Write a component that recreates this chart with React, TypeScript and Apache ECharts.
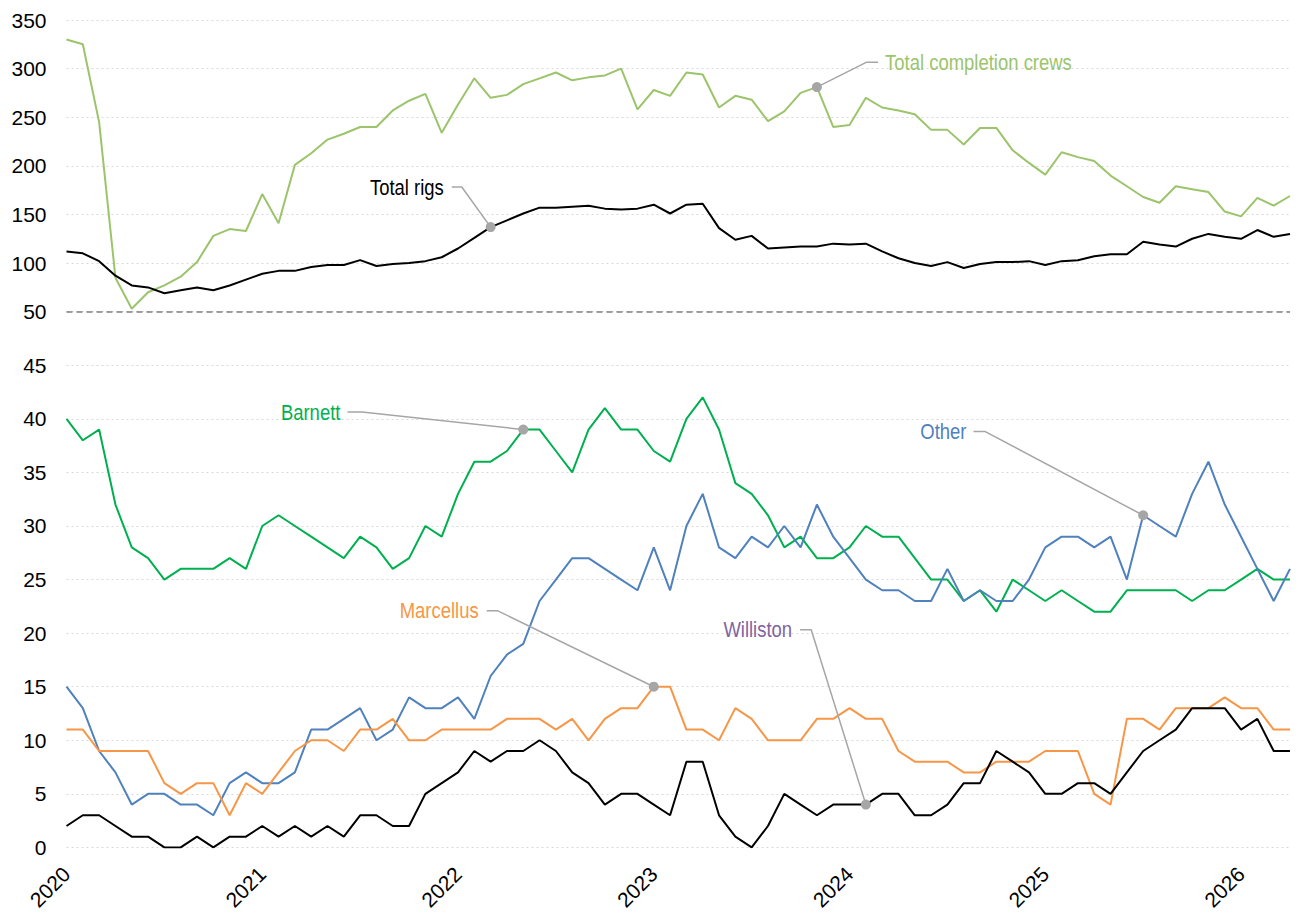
import React, { useEffect, useRef } from "react";
import * as echarts from "echarts";

// Months from Jan 2020 (index 0) to Apr 2026 (index 75)
const startYear = 2020;
const yearTicks = ["2020", "2021", "2022", "2023", "2024", "2025", "2026"];

// Upper panel (scale 50–350)
const totalCompletionCrews = [
  330, 325, 245, 85, 53, 70, 77, 86, 101, 128, 135, 133,
  171, 141, 201, 213, 227, 233, 240, 240, 257, 267, 274, 234,
  263, 290, 270, 273, 284, 290, 296, 288, 291, 293, 300, 258,
  278, 272, 296, 294, 260, 272, 268, 246, 256, 275, 281, 240,
  242, 270, 260, 257, 253, 237, 237, 222, 239, 239, 216, 203,
  191, 214, 209, 205, 190, 179, 168, 162, 179, 176, 173, 153,
  148, 167, 159, 169,
];
const totalRigs = [
  112, 110, 102, 87, 77, 75, 69, 72, 75, 72, 77, 83,
  89, 92, 92, 96, 98, 98, 103, 97, 99, 100, 102, 106,
  115, 126, 137, 144, 151, 157, 157, 158, 159, 156, 155, 156,
  160, 151, 160, 161, 136, 124, 128, 115, 116, 117, 117, 120,
  119, 120, 112, 105, 100, 97, 101, 95, 99, 101, 101, 102,
  98, 102, 103, 107, 109, 109, 122, 119, 117, 125, 130, 127,
  125, 134, 127, 130,
];

// Lower panel (scale 0–45)
const barnett = [
  40, 38, 39, 32, 28, 27, 25, 26, 26, 26, 27, 26,
  30, 31, 30, 29, 28, 27, 29, 28, 26, 27, 30, 29,
  33, 36, 36, 37, 39, 39, 37, 35, 39, 41, 39, 39,
  37, 36, 40, 42, 39, 34, 33, 31, 28, 29, 27, 27,
  28, 30, 29, 29, 27, 25, 25, 23, 24, 22, 25, 24,
  23, 24, 23, 22, 22, 24, 24, 24, 24, 23, 24, 24,
  25, 26, 25, 25,
];
const other = [
  15, 13, 9, 7, 4, 5, 5, 4, 4, 3, 6, 7,
  6, 6, 7, 11, 11, 12, 13, 10, 11, 14, 13, 13,
  14, 12, 16, 18, 19, 23, 25, 27, 27, 26, 25, 24,
  28, 24, 30, 33, 28, 27, 29, 28, 30, 28, 32, 29,
  27, 25, 24, 24, 23, 23, 26, 23, 24, 23, 23, 25,
  28, 29, 29, 28, 29, 25, 31, 30, 29, 33, 36, 32,
  29, 26, 23, 26,
];
const marcellus = [
  11, 11, 9, 9, 9, 9, 6, 5, 6, 6, 3, 6,
  5, 7, 9, 10, 10, 9, 11, 11, 12, 10, 10, 11,
  11, 11, 11, 12, 12, 12, 11, 12, 10, 12, 13, 13,
  15, 15, 11, 11, 10, 13, 12, 10, 10, 10, 12, 12,
  13, 12, 12, 9, 8, 8, 8, 7, 7, 8, 8, 8,
  9, 9, 9, 5, 4, 12, 12, 11, 13, 13, 13, 14,
  13, 13, 11, 11,
];
const williston = [
  2, 3, 3, 2, 1, 1, 0, 0, 1, 0, 1, 1,
  2, 1, 2, 1, 2, 1, 3, 3, 2, 2, 5, 6,
  7, 9, 8, 9, 9, 10, 9, 7, 6, 4, 5, 5,
  4, 3, 8, 8, 3, 1, 0, 2, 5, 4, 3, 4,
  4, 4, 5, 5, 3, 3, 4, 6, 6, 9, 8, 7,
  5, 5, 6, 6, 5, 7, 9, 10, 11, 13, 13, 13,
  11, 12, 9, 9,
];

const FONT = "'Liberation Sans', Arial, sans-serif";
const C_CREWS = "#9BC46B";
const C_RIGS = "#000000";
const C_BARNETT = "#00B050";
const C_OTHER = "#4F81BD";
const C_MARCELLUS = "#F79646";
const C_WILLISTON = "#000000";
const C_WILLISTON_LABEL = "#8064A2";
const C_LEADER = "#A6A6A6";

const toXY = (arr: number[]) => arr.map((v, i) => [i, v]);

type Ann = {
  name: string;
  grid: number;
  color: string;
  side: "left" | "right";
  start: [number, number]; // text-side end of leader (data coords)
  elbow: [number, number];
  dot: [number, number];
  distance: number;
};

// Annotation anchors (month index, value)
const annotations: Ann[] = [
  { name: "Total rigs", grid: 0, color: C_RIGS, side: "left", start: [23.62, 178.2], elbow: [24.23, 178.2], dot: [26, totalRigs[26]], distance: 8 },
  { name: "Total completion crews", grid: 0, color: C_CREWS, side: "right", start: [49.75, 306.5], elbow: [49.02, 306.5], dot: [46, totalCompletionCrews[46]], distance: 7 },
  { name: "Barnett", grid: 1, color: C_BARNETT, side: "left", start: [17.22, 40.63], elbow: [18.12, 40.63], dot: [28, barnett[28]], distance: 7 },
  { name: "Marcellus", grid: 1, color: C_MARCELLUS, side: "left", start: [25.76, 22.08], elbow: [26.44, 22.08], dot: [36, marcellus[36]], distance: 8 },
  { name: "Williston", grid: 1, color: C_WILLISTON_LABEL, side: "left", start: [44.97, 20.32], elbow: [45.65, 20.32], dot: [49, williston[49]], distance: 8 },
  { name: "Other", grid: 1, color: C_OTHER, side: "left", start: [55.6, 38.81], elbow: [56.32, 38.81], dot: [66, other[66]], distance: 7 },
];

const splitLine = { show: true, lineStyle: { color: "#D9D9D9", type: [2, 3] as any, width: 1 } };

export default function App() {
  const ref = useRef<HTMLDivElement>(null);

  useEffect(() => {
    if (!ref.current) return;
    const chart = echarts.init(ref.current, undefined, { renderer: "svg" });

    const dataSeries = (name: string, arr: number[], color: string, g: number, extra: any = {}) => ({
      name,
      type: "line",
      xAxisIndex: g,
      yAxisIndex: g,
      data: toXY(arr),
      showSymbol: false,
      symbol: "none",
      lineStyle: { color, width: 2 },
      itemStyle: { color },
      z: 3,
      silent: true,
      ...extra,
    });

    const annSeries = annotations.map((a) => ({
      name: a.name + " leader",
      type: "line",
      xAxisIndex: a.grid,
      yAxisIndex: a.grid,
      symbol: "circle",
      showSymbol: true,
      silent: true,
      z: 6,
      lineStyle: { color: C_LEADER, width: 1.5 },
      itemStyle: { color: C_LEADER },
      data: [
        { value: a.start, symbolSize: 0 },
        { value: a.elbow, symbolSize: 0 },
        { value: a.dot, symbolSize: 10 },
      ],
    }));

    const xAxisBase = {
      type: "value",
      min: 0,
      max: 75,
      interval: 12,
      axisLine: { show: false },
      axisTick: { show: false },
      splitLine: { show: false },
    };

    chart.setOption({
      animation: false,
      backgroundColor: "#ffffff",
      grid: [
        { left: 66.5, right: 8, top: 20, height: 291.7 },
        { left: 66.5, right: 8, top: 311.7, height: 539 },
      ],
      xAxis: [
        { ...xAxisBase, gridIndex: 0, axisLabel: { show: false } },
        {
          ...xAxisBase,
          gridIndex: 1,
          axisLabel: {
            show: true,
            rotate: 45,
            margin: 23,
            color: "#000",
            fontSize: 21,
            fontFamily: FONT,
            formatter: (v: number) => (v % 12 === 0 ? yearTicks[v / 12] ?? String(startYear + v / 12) : ""),
          },
        },
      ],
      yAxis: [
        {
          type: "value",
          gridIndex: 0,
          min: 50,
          max: 350,
          interval: 50,
          axisLine: { show: false },
          axisTick: { show: false },
          splitLine,
          axisLabel: { margin: 20, color: "#000", fontSize: 21, fontFamily: FONT },
        },
        {
          type: "value",
          gridIndex: 1,
          min: 0,
          max: 50,
          interval: 5,
          axisLine: { show: false },
          axisTick: { show: false },
          splitLine,
          axisLabel: {
            margin: 20,
            color: "#000",
            fontSize: 21,
            fontFamily: FONT,
            formatter: (v: number) => (v === 50 ? "" : String(v)),
          },
        },
      ],
      series: [
        dataSeries("Total completion crews", totalCompletionCrews, C_CREWS, 0, {
          markLine: {
            silent: true,
            symbol: "none",
            label: { show: false },
            lineStyle: { color: "#808080", type: [6, 4], width: 1.5 },
            data: [{ yAxis: 50 }],
          },
        }),
        dataSeries("Total rigs", totalRigs, C_RIGS, 0),
        dataSeries("Barnett", barnett, C_BARNETT, 1),
        dataSeries("Other", other, C_OTHER, 1),
        dataSeries("Marcellus", marcellus, C_MARCELLUS, 1),
        dataSeries("Williston", williston, C_WILLISTON, 1),
        ...annSeries,
      ],
    });

    // Condensed-looking annotation texts placed at the leader ends
    const texts = annotations.map((a) => {
      const p = chart.convertToPixel({ gridIndex: a.grid } as any, a.start) as number[];
      const left = a.side === "left";
      return {
        type: "text",
        x: left ? p[0] - a.distance : p[0] + a.distance,
        y: p[1],
        scaleX: 0.84,
        silent: true,
        z: 10,
        style: {
          text: a.name,
          fill: a.color,
          font: `22px ${FONT}`,
          textAlign: left ? "right" : "left",
          textVerticalAlign: "middle",
        },
      };
    });
    chart.setOption({ graphic: texts });

    return () => chart.dispose();
  }, []);

  return (
    <div
      ref={ref}
      style={{ position: "fixed", left: 0, top: 0, width: 1298, height: 913, background: "#fff" }}
    />
  );
}
